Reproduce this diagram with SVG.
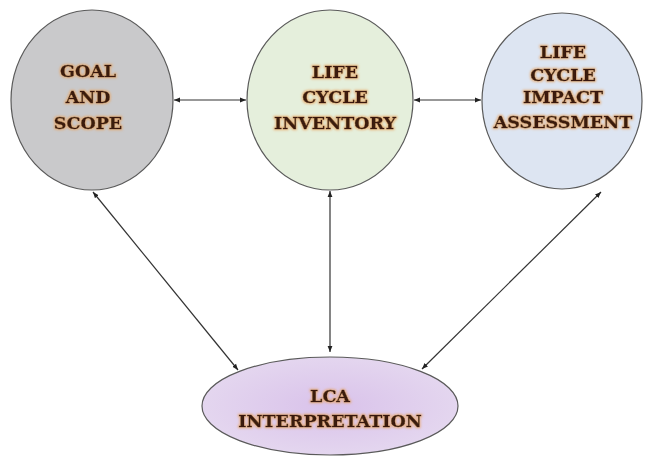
<svg xmlns="http://www.w3.org/2000/svg" width="646" height="458" viewBox="0 0 646 458">
<defs>
<marker id="ah" viewBox="0 0 10 10" refX="10" refY="5" markerWidth="6" markerHeight="6" orient="auto-start-reverse" markerUnits="userSpaceOnUse">
<path d="M0,1 L10,5 L0,9 z" fill="#222"/>
</marker>
<radialGradient id="gPurple" cx="0.5" cy="0.5" r="0.6">
<stop offset="0" stop-color="#d9c2ea"/>
<stop offset="1" stop-color="#e6daf0"/>
</radialGradient>
<filter id="glow" x="-10%" y="-30%" width="120%" height="160%">
<feMorphology in="SourceAlpha" operator="dilate" radius="1.2" result="d"/>
<feGaussianBlur in="d" stdDeviation="1.3" result="b"/>
<feFlood flood-color="#e9a35f" flood-opacity="0.7"/>
<feComposite in2="b" operator="in" result="g"/>
<feMerge><feMergeNode in="g"/><feMergeNode in="SourceGraphic"/></feMerge>
</filter>
</defs>
<style>
.node ellipse{stroke:#5a5a5a;stroke-width:1.2}
.lbl{font-family:"DejaVu Serif","Liberation Serif",serif;font-weight:bold;font-size:17.5px;fill:#3a1a0c;stroke:#3a1a0c;stroke-width:0.4;text-anchor:middle;filter:url(#glow)}
.conn line{stroke:#333;stroke-width:1.2;marker-start:url(#ah);marker-end:url(#ah)}
</style>
<rect width="646" height="458" fill="#ffffff"/>
<g id="goal" class="node">
<ellipse cx="92" cy="100" rx="81" ry="90" fill="#c9c9cb"/>
<text class="lbl" x="88" y="77">GOAL</text>
<text class="lbl" x="88" y="103">AND</text>
<text class="lbl" x="88" y="129">SCOPE</text>
</g>
<g id="lci" class="node">
<ellipse cx="330" cy="100" rx="83" ry="90" fill="#e5efdc"/>
<text class="lbl" x="335" y="78">LIFE</text>
<text class="lbl" x="335" y="103">CYCLE</text>
<text class="lbl" x="335" y="129">INVENTORY</text>
</g>
<g id="lcia" class="node">
<ellipse cx="562" cy="101" rx="80" ry="88" fill="#dde5f2"/>
<text class="lbl" x="563" y="58">LIFE</text>
<text class="lbl" x="563" y="81">CYCLE</text>
<text class="lbl" x="563" y="103">IMPACT</text>
<text class="lbl" x="563" y="128">ASSESSMENT</text>
</g>
<g id="lca" class="node">
<ellipse cx="330" cy="406" rx="128" ry="49" fill="url(#gPurple)"/>
<text class="lbl" x="330" y="402">LCA</text>
<text class="lbl" x="330" y="427">INTERPRETATION</text>
</g>
<g id="connectors" class="conn">
<line x1="174" y1="100" x2="246" y2="100"/>
<line x1="414" y1="100" x2="481" y2="100"/>
<line x1="330" y1="191" x2="330" y2="352"/>
<line x1="93" y1="192" x2="238" y2="370"/>
<line x1="601" y1="192" x2="422" y2="369"/>
</g>
</svg>
